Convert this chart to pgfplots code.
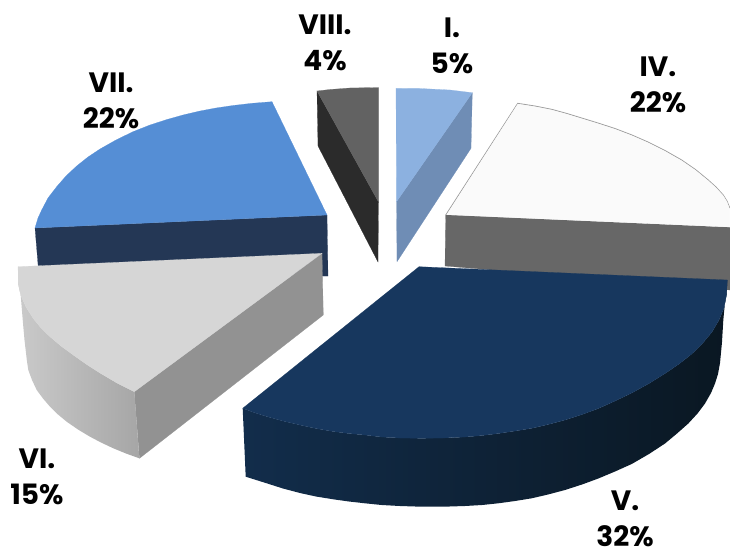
\documentclass[border=0pt]{standalone}
\usepackage{pgfplots}
\pgfplotsset{compat=1.18}
\usepackage{fontspec}
\setmainfont{Poppins}
\definecolor{a1}{HTML}{558ED5}\definecolor{a2}{HTML}{243755}
\definecolor{b1}{HTML}{626262}\definecolor{b2}{HTML}{2B2B2B}
\definecolor{c1}{HTML}{8CB1E0}\definecolor{c2}{HTML}{6F8DB5}
\definecolor{d1}{HTML}{FAFAFA}\definecolor{d2}{HTML}{676767}\definecolor{d3}{HTML}{A0A0A0}
\definecolor{e1}{HTML}{D6D6D6}\definecolor{e2}{HTML}{929292}
\definecolor{f1}{HTML}{17375E}
\definecolor{s1}{HTML}{CACACA}\definecolor{s6}{HTML}{A6A6A6}
\definecolor{v1}{HTML}{122D4B}\definecolor{v5}{HTML}{0B1A2B}\definecolor{v8}{HTML}{0A1722}
\newcommand{\face}[2]{\addplot[fill=#1,draw=#1,line width=0.2pt] coordinates {#2} -- cycle;}
\newcommand{\lbl}[3]{\node[align=center,font=\fontsize{28}{36}\selectfont\bfseries,text=black,inner sep=0pt] at (axis cs:#1) {#2\\#3};}
\begin{document}
\begin{tikzpicture}
\useasboundingbox (0,0) rectangle (730pt,552pt);
\begin{axis}[at={(0,0)},anchor=south west,scale only axis,width=730pt,height=552pt,xmin=0,xmax=730,ymin=0,ymax=552,
  y dir=reverse,hide axis,no markers,clip=false]
% VII
\face{a2}{(35,228)(327,215)(328,276)(39,276)}
\face{a1}{(35,228)(38,218)(41.7,210)(48,198)(56.7,186.7)(66,176)(76.7,166)(88,157)(100,149)(116,140)(133,131.7)(150,125)(167,119.5)(183,115)(200,111)(216,108)(233,105.5)(252,103.3)(272,101.7)(327,215)}
% VIII
\face{b2}{(317,91)(378.5,202)(378,262)(318,146)}
\face{b1}{(317,91)(330,89.5)(350,88)(378.5,87.5)(378.5,202)}
% I
\face{c2}{(472.3,92.7)(471,148.3)(397,261.7)(396.5,201.7)}
\face{c1}{(396,88.3)(420,88.5)(450,90)(472.3,92.7)(396.5,201.7)}
% IV
\face{d2}{(445,266)(445.7,215)(730,227.3)(730,290)}
\addplot[fill=d1,draw=d3,line width=0.8pt] coordinates {(445.7,215)(517.7,103.3)(535,106)(551.7,109.3)(567,113.5)(581.7,118)(598,123)(615,128.5)(632,135)(648,142)(665,150.5)(681.7,160)(695.5,169.5)(708.3,180)(716,187)(723.3,195)(727,201)(730,208.3)};
\face{d1}{(447,214.5)(517.7,104.3)(535,107)(551.7,110.3)(567,114.5)(581.7,119)(598,124)(615,129.5)(632,136)(648,143)(665,151.5)(681.7,161)(695.5,170.5)(708.3,181)(716,188)(723.3,196)(727,202)(729.5,209)(729.5,227)}
% VI
\face{e2}{(134.3,391.7)(322,253.3)(323.3,315)(139.5,458.3)}
\addplot[left color=s1,right color=s6,draw=none] coordinates {(18,266.7)(18.5,285)(20.7,295)(26,307)(33.3,318.5)(41,328)(50,336.7)(61,346)(73.3,355)(86,364)(100,373)(117,383)(134.3,391.7)(139.3,458.3)(126,453.5)(113.3,448.3)(101,442.5)(90,436.7)(78,429.5)(66.7,421.7)(58,414.5)(50,406.7)(43,398.5)(36.7,390)(32,380)(28.3,370)(26.8,360)(26,353)(24.5,340)(23.3,326.7)(22,311)(20.7,295)} -- cycle;
\face{e1}{(18,266.7)(322,253.3)(134.3,391.7)(117,383)(100,373)(86,364)(73.3,355)(61,346)(50,336.7)(41,328)(33.3,318.5)(26,307)(20.7,295)(18.5,285)}
% V side
\addplot[left color=v1,middle color=v5,right color=v8,draw=none] coordinates {(242.7,408.3)(254,412.5)(266.7,416.5)(283,421)(300,425)(316,428.5)(333.3,431.5)(349,433.5)(365,435)(381.7,437)(400,438)(421.7,438.3)(443,438)(465,437)(482,435.5)(498.3,433.5)(515,431)(531.7,428.3)(548,424.5)(565,420)(582,414.5)(598.3,408.5)(615,401)(631.7,393)(649,383.5)(665,373.5)(679,364)(691.7,354)(702,344)(712,332)(719,320)(724,308)(726.5,295)(727.3,280)(725,302)(723.3,320)(722,342)(720,363)(718,374)(715,383.5)(711,393)(705,403.5)(697.5,413.5)(688.3,423.5)(677,433.5)(665,443.5)(649,454)(631.7,464)(615,471.5)(598.3,478.5)(582,484.5)(565,490)(548,494.5)(531.7,498.3)(515,501)(498.3,503.3)(482,505)(465,506)(443,506.7)(421.7,506.7)(400,506)(381.7,505)(365,503.3)(349,501.5)(333.3,499.3)(316,496.5)(300,493)(283,488.5)(266.7,483.3)(245.7,476.7)} -- cycle;
% V top
\face{f1}{(419,266.7)(727.3,280)(726.5,295)(724,308)(719,320)(712,332)(702,344)(691.7,354)(679,364)(665,373.5)(649,383.5)(631.7,393)(615,401)(598.3,408.5)(582,414.5)(565,420)(548,424.5)(531.7,428.3)(515,431)(498.3,433.5)(482,435.5)(465,437)(443,438)(421.7,438.3)(400,438)(381.7,437)(365,435)(349,433.5)(333.3,431.5)(316,428.5)(300,425)(283,421)(266.7,416.5)(254,412.5)(242.7,408.3)}
% labels
\lbl{325,43}{VIII.}{4\%}
\lbl{452,46}{I.}{5\%}
\lbl{658,85}{IV.}{22\%}
\lbl{111,101}{VII.}{22\%}
\lbl{37,477}{VI.}{15\%}
\lbl{625,519}{V.}{32\%}
\end{axis}
\end{tikzpicture}
\end{document}
